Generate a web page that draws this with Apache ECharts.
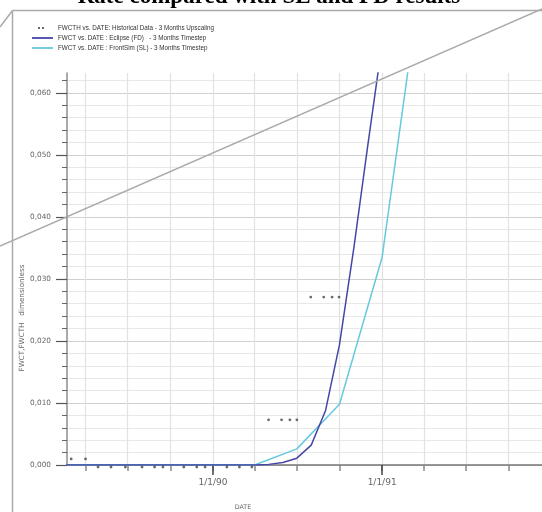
<!DOCTYPE html>
<html><head><meta charset="utf-8">
<script src="https://cdn.jsdelivr.net/npm/echarts@6/dist/echarts.min.js"></script>
<style>html,body{margin:0;padding:0;background:#fff}#c{width:542px;height:512px}</style>
</head><body><div id="c"></div>
<script>
const titleText = 'Rate compared with SL and FD results';
const seriesNames = [
  'FWCTH vs. DATE: Historical Data - 3 Months Upscaling',
  'FWCT vs. DATE : Eclipse (FD)   - 3 Months Timestep',
  'FWCT vs. DATE : FrontSim (SL) - 3 Months Timestep'
];
const xAxisName = 'DATE';
const yAxisName = 'FWCT,FWCTH   dimensionless';

const histDates = ['1989-03-01','1989-04-01','1989-04-28','1989-05-26','1989-06-26','1989-08-01','1989-08-28','1989-09-15','1989-10-30','1989-11-27','1989-12-15','1990-01-31','1990-02-27','1990-03-26',
  '1990-05-01','1990-05-29','1990-06-16','1990-07-01',
  '1990-07-31','1990-08-28','1990-09-15','1990-09-30'];
const histValues = [0.0013,0.0013,0,0,0,0,0,0,0,0,0,0,0,0,
  0.0076,0.0076,0.0076,0.0076,
  0.0274,0.0274,0.0274,0.0274];

const eclipseDates = ['1989-01-01','1989-04-01','1989-07-01','1989-10-01','1990-01-01','1990-04-01','1990-05-01','1990-06-01','1990-07-01','1990-08-01','1990-09-01','1990-10-01','1990-11-01','1990-12-01','1991-01-01'];
const eclipseValues = [0,0,0,0,0,0,0.0001,0.0004,0.0011,0.0032,0.0088,0.0194,0.0350,0.0515,0.0680];

const frontsimDates = ['1989-01-01','1989-04-01','1989-07-01','1989-10-01','1990-01-01','1990-04-01','1990-07-01','1990-10-01','1991-01-01','1991-04-01'];
const frontsimValues = [0,0,0,0,0,0,0.0026,0.0098,0.0335,0.0820];

const xTickDates = ['1989-04-01','1989-07-01','1989-10-01','1990-01-01','1990-04-01','1990-07-01','1990-10-01','1991-01-01','1991-04-01','1991-07-01','1991-10-01'];
const xLabelDates = ['1990-01-01','1991-01-01'];
const xRange = ['1989-02-20','1991-12-12'];
const yRange = [0, 0.0632];
const yTickValues = [0,0.01,0.02,0.03,0.04,0.05,0.06];
const yMinorTickValues = [0.002,0.004,0.006,0.008,0.012,0.014,0.016,0.018,0.022,0.024,0.026,0.028,0.032,0.034,0.036,0.038,0.042,0.044,0.046,0.048,0.052,0.054,0.056,0.058,0.062];

const t = s => Date.parse(s + 'T00:00:00Z');
const pairs = (ds, vs) => ds.map((d, i) => [t(d), vs[i]]);
const fmtDate = v => { const d = new Date(v); return (d.getUTCMonth()+1) + '/' + d.getUTCDate() + '/' + String(d.getUTCFullYear()).slice(2); };

const chart = echarts.init(document.getElementById('c'), null, {renderer:'canvas'});
const FF = 'DejaVu Sans';
const lineIcon = 'path://M0,0M21,6M0,2.1h21v1.8h-21z';
chart.setOption({
  animation: false,
  backgroundColor: '#fff',
  grid: {left: 67, top: 73, right: 0, bottom: 47},
  legend: {
    orient: 'vertical', left: 32, top: 25, padding: 0,
    itemWidth: 21, itemHeight: 6, itemGap: 4,
    textStyle: {fontSize: 6.3, color: '#333', fontFamily: 'Liberation Sans'},
    data: [
      {name: seriesNames[0], icon: 'path://M0,0M21,6M6,2h2v2h-2zM10,2h2v2h-2z'},
      {name: seriesNames[1], icon: lineIcon},
      {name: seriesNames[2], icon: lineIcon}
    ]
  },
  xAxis: [
    {type: 'value', min: t(xRange[0]), max: t(xRange[1]), position: 'bottom',
      axisLine: {show: true, lineStyle: {color: '#777', width: 1.5}},
      axisTick: {show: true, customValues: xTickDates.map(t), length: 6, lineStyle: {color: '#888', width: 1.5}},
      axisLabel: {show: false},
      splitLine: {show: true, lineStyle: {color: '#e2e2e2', width: 1.2}}
    },
    {type: 'value', min: t(xRange[0]), max: t(xRange[1]), position: 'bottom',
      axisLine: {show: false},
      axisTick: {show: true, customValues: xLabelDates.map(t), length: 10, lineStyle: {color: '#444', width: 1.5}},
      axisLabel: {show: true, customValues: xLabelDates.map(t), formatter: fmtDate, margin: 13, fontSize: 9, color: '#666', fontFamily: FF},
      splitLine: {show: false}
    }
  ],
  yAxis: [
    {type: 'value', min: yRange[0], max: yRange[1], position: 'left',
      axisLine: {show: true, lineStyle: {color: '#8c8c8c', width: 1.5}},
      axisTick: {show: true, customValues: yTickValues, length: 11, lineStyle: {color: '#555', width: 1.2}},
      axisLabel: {customValues: yTickValues, formatter: v => v.toFixed(3).replace('.', ','), margin: 16, fontSize: 7.3, color: '#666', fontFamily: FF},
      splitLine: {show: true, lineStyle: {color: '#d0d0d0', width: 1.2}}
    },
    {type: 'value', min: yRange[0], max: yRange[1], position: 'left',
      axisLine: {show: false},
      axisTick: {show: true, customValues: yMinorTickValues, length: 5, lineStyle: {color: '#666', width: 1}},
      axisLabel: {show: false},
      splitLine: {show: true, lineStyle: {color: '#e8e8e8', width: 1}}
    }
  ],
  series: [
    {name: seriesNames[0], type: 'scatter', data: pairs(histDates, histValues), symbol: 'circle', symbolSize: 2.8, symbolOffset: [0, 2], itemStyle: {color: '#444'}, z: 5},
    {name: seriesNames[2], type: 'line', data: pairs(frontsimDates, frontsimValues), symbol: 'none', lineStyle: {color: '#66c9dd', width: 1.5}, itemStyle: {color: '#66c9dd'}},
    {name: seriesNames[1], type: 'line', data: pairs(eclipseDates, eclipseValues), symbol: 'none', lineStyle: {color: '#4646a8', width: 1.5}, itemStyle: {color: '#4646a8'}}
  ],
  graphic: [
    {type: 'text', x: 269, y: -3, z: 100, style: {text: titleText, align: 'center', verticalAlign: 'middle', font: 'bold 23px "Liberation Serif"', fill: '#000'}},
    {type: 'line', z: 100, shape: {x1: 12.5, y1: 10.5, x2: 542, y2: 10.5}, style: {stroke: '#aaa', lineWidth: 1.5}},
    {type: 'line', z: 100, shape: {x1: 12.5, y1: 10.5, x2: 12.5, y2: 512}, style: {stroke: '#aaa', lineWidth: 1.5}},
    {type: 'line', z: 100, shape: {x1: 0, y1: 27, x2: 12.5, y2: 10.5}, style: {stroke: '#aaa', lineWidth: 1.5}},
    {type: 'line', z: 100, shape: {x1: 0, y1: 246, x2: 542, y2: 9}, style: {stroke: '#aaa', lineWidth: 1.5}},
    {type: 'text', x: 22, y: 318, rotation: Math.PI / 2, z: 100, style: {text: yAxisName, align: 'center', verticalAlign: 'middle', fontSize: 7.2, fontFamily: FF, fill: '#666'}},
    {type: 'text', x: 243, y: 507, z: 100, style: {text: xAxisName, align: 'center', verticalAlign: 'middle', fontSize: 6.3, fontFamily: FF, fill: '#666'}}
  ]
});
</script></body></html>
